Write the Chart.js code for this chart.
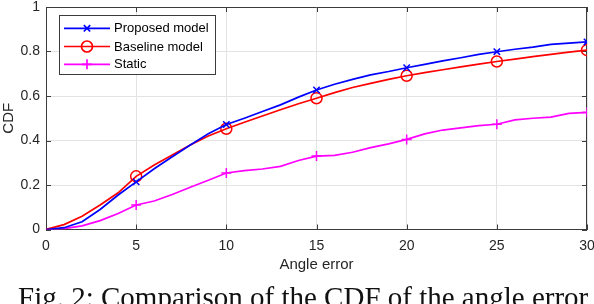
<!DOCTYPE html>
<html><head><meta charset="utf-8">
<script src="https://cdn.jsdelivr.net/npm/chart.js@4/dist/chart.umd.min.js"></script>
<style>
html,body{margin:0;padding:0;background:#fff;overflow:hidden;width:594px;height:304px;}
#wrap{position:absolute;left:0;top:0;width:594px;height:304px;}
#cap{position:absolute;left:18px;top:283px;font:29px 'Liberation Serif','Times New Roman',serif;line-height:29px;white-space:nowrap;color:#111;}
</style></head><body>
<div id="wrap"><canvas id="c" width="594" height="304"></canvas></div>
<div id="cap">Fig. 2: Comparison of the CDF of the angle error</div>
<script>
const angles = [0,1,2,3,4,5,6,7,8,9,10,11,12,13,14,15,16,17,18,19,20,21,22,23,24,25,26,27,28,29,30];
const proposed = [0,0.008,0.035,0.09,0.155,0.214,0.273,0.327,0.38,0.43,0.472,0.5,0.53,0.56,0.595,0.627,0.653,0.675,0.695,0.71,0.727,0.742,0.758,0.772,0.787,0.799,0.81,0.82,0.832,0.838,0.843];
const baseline = [0,0.022,0.06,0.11,0.165,0.239,0.29,0.335,0.38,0.42,0.453,0.482,0.51,0.538,0.565,0.59,0.615,0.638,0.657,0.675,0.691,0.705,0.718,0.731,0.743,0.755,0.766,0.777,0.787,0.797,0.806];
const staticCdf = [0,0.004,0.016,0.04,0.072,0.11,0.128,0.157,0.19,0.221,0.254,0.265,0.272,0.284,0.31,0.33,0.333,0.347,0.368,0.385,0.405,0.43,0.447,0.457,0.467,0.473,0.493,0.5,0.505,0.522,0.526];
const markerAngles = [5,10,15,20,25,30];
const seriesNames = ['Proposed model','Baseline model','Static'];
const xTicks = [0,5,10,15,20,25,30];
const yTicks = [0,0.2,0.4,0.6,0.8,1];

const FONT = "'Liberation Sans', Arial, Helvetica, sans-serif";
const TXT = '#262626';
const AX = '#3c3c3c';

function pts(arr){ return angles.map((a,i)=>({x:a,y:arr[i]})); }
function mk(r){ return ctx => markerAngles.includes(angles[ctx.dataIndex]) ? r : 0; }

function ds(label, arr, color, style, r){
  return {label, data: pts(arr), borderColor: color, backgroundColor:'rgba(0,0,0,0)',
    borderWidth:1.7, pointStyle: style, pointRadius: mk(r), pointHoverRadius: mk(r),
    pointBorderColor: color, pointBackgroundColor:'rgba(0,0,0,0)', pointBorderWidth:1.5,
    tension:0, fill:false};
}

const framePlugin = {
  id:'frame',
  beforeDatasetsDraw(chart){
    const {ctx, chartArea:a, scales} = chart;
    ctx.save();
    ctx.strokeStyle = AX; ctx.lineWidth = 1;
    ctx.beginPath();
    ctx.moveTo(a.left, a.top+0.5); ctx.lineTo(a.right, a.top+0.5);
    ctx.moveTo(a.right-0.5, a.top); ctx.lineTo(a.right-0.5, a.bottom);
    const L = 5;
    xTicks.forEach(v=>{ const x = Math.round(scales.x.getPixelForValue(v))+0.5;
      ctx.moveTo(x,a.bottom); ctx.lineTo(x,a.bottom-L);
      ctx.moveTo(x,a.top); ctx.lineTo(x,a.top+L); });
    yTicks.forEach(v=>{ const y = Math.round(scales.y.getPixelForValue(v))+0.5;
      ctx.moveTo(a.left,y); ctx.lineTo(a.left+L,y);
      ctx.moveTo(a.right,y); ctx.lineTo(a.right-L,y); });
    ctx.stroke();
    ctx.restore();
  }
};

const legendPlugin = {
  id:'boxLegend',
  afterDraw(chart){
    const {ctx} = chart;
    const bx = 59.5, by = 15.5, bw = 156, bh = 59;
    ctx.save();
    ctx.fillStyle = '#fff'; ctx.fillRect(bx,by,bw,bh);
    ctx.strokeStyle = AX; ctx.lineWidth = 1; ctx.strokeRect(bx,by,bw,bh);
    const rows = [28.3, 46.5, 64.3];
    chart.data.datasets.forEach((d,i)=>{
      const y = rows[i];
      ctx.strokeStyle = d.borderColor; ctx.lineWidth = d.borderWidth;
      ctx.beginPath(); ctx.moveTo(64,y); ctx.lineTo(110,y); ctx.stroke();
      const r = [4.5,5.5,5][i];
      ctx.fillStyle = 'rgba(0,0,0,0)';
      Chart.helpers.drawPoint(ctx,{pointStyle:d.pointStyle, radius:r, rotation:0, borderWidth:1.5},87,y);
      ctx.fillStyle = '#000'; ctx.font = '13px '+FONT; ctx.textBaseline='middle'; ctx.textAlign='left';
      ctx.fillText(d.label, 114, y+0.5);
    });
    ctx.restore();
  }
};

new Chart(document.getElementById('c'), {
  type:'line',
  data:{ datasets:[
    ds(seriesNames[0], proposed, '#0000ff', 'crossRot', 4.5),
    ds(seriesNames[1], baseline, '#ff0000', 'circle', 5.5),
    ds(seriesNames[2], staticCdf, '#ff00ff', 'cross', 5)
  ]},
  options:{
    responsive:false, animation:false, devicePixelRatio:1,
    layout:{padding:{top:6,right:7,bottom:30,left:0}},
    plugins:{legend:{display:false}, tooltip:{enabled:false}},
    scales:{
      x:{type:'linear', min:0, max:30,
        afterBuildTicks: s => { s.ticks = xTicks.map(v=>({value:v})); },
        afterFit: s => { s.height = 44.5; s.paddingLeft = 0; s.paddingRight = 0; },
        ticks:{color:TXT, font:{family:FONT,size:14}, padding:8, maxRotation:0,
          callback: v => String(v)},
        grid:{color:'#e3e3e3', drawTicks:false, lineWidth:1},
        border:{color:AX, width:1},
        title:{display:true, text:'Angle error', color:TXT, font:{family:FONT,size:15}, padding:0}
      },
      y:{min:0, max:1,
        afterBuildTicks: s => { s.ticks = yTicks.map(v=>({value:v})); },
        afterFit: s => { s.width = 46; s.paddingTop = 0; s.paddingBottom = 0; },
        ticks:{color:TXT, font:{family:FONT,size:14}, padding:6,
          callback: v => String(Number(v.toFixed(1)))},
        grid:{color:'#e3e3e3', drawTicks:false, lineWidth:1},
        border:{color:AX, width:1},
        title:{display:true, text:'CDF', color:TXT, font:{family:FONT,size:15}, padding:0}
      }
    }
  },
  plugins:[framePlugin, legendPlugin]
});
</script>
</body></html>
